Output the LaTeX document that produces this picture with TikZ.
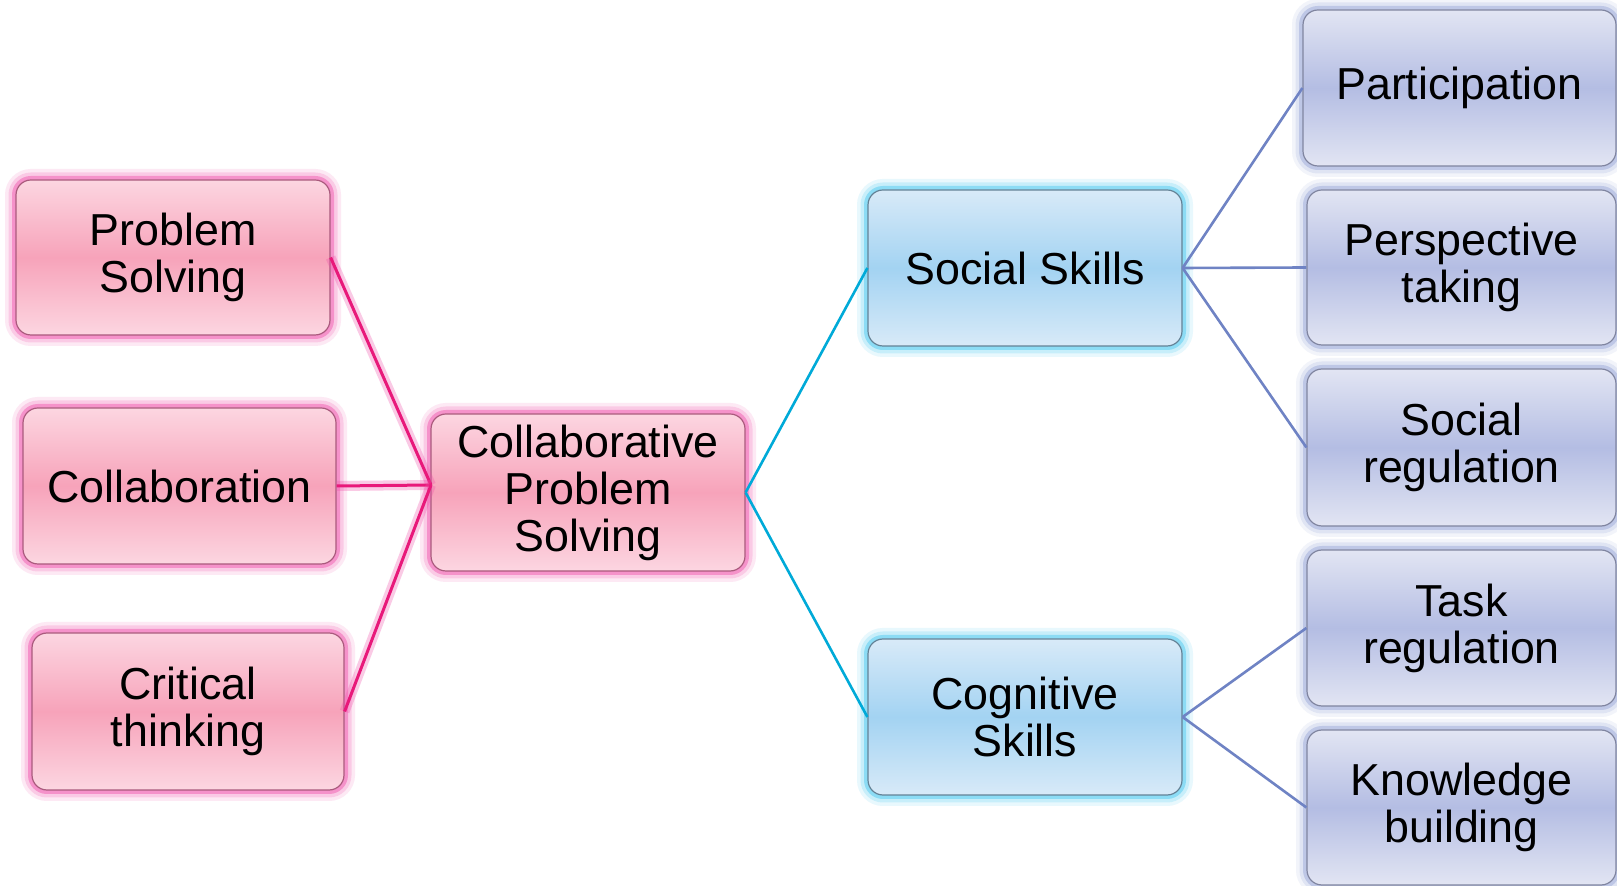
\documentclass[tikz,border=0pt]{standalone}
\usepackage{fontspec}
\setmainfont{Liberation Sans}
\begin{document}
\begin{tikzpicture}[x=0.5pt,y=-0.5pt,
  base/.style={rounded corners=7.5pt, inner sep=0pt, align=center,
    font=\fontsize{22.4}{23.5}\selectfont, line width=0.6pt},
  glow/.style={preaction={draw=#1, line width=11pt, opacity=0.12},
    preaction={draw=#1, line width=7.5pt, opacity=0.2},
    preaction={draw=#1, line width=4pt, opacity=0.45}},
  pinkbox/.style={base, draw=pinkedge, top color=pinktop, bottom color=pinktop, middle color=pinkmid, glow=pinkglow},
  bluebox/.style={base, draw=blueedge, top color=bluetop, bottom color=bluetop, middle color=bluemid, glow=blueglow},
  purplebox/.style={base, draw=purpleedge, top color=purpletop, bottom color=purpletop, middle color=purplemid, glow=purpleglow},
  pinkline/.style={draw=pinkline, line width=1.5pt,
    preaction={draw=pinkglow, line width=5pt, opacity=0.3}},
  blueline/.style={draw=blueline, line width=1.3pt},
  purpleline/.style={draw=purpleline, line width=1.3pt}]
\definecolor{pinktop}{RGB}{252,214,225}
\definecolor{pinkmid}{RGB}{247,163,186}
\definecolor{pinkedge}{RGB}{170,90,125}
\definecolor{pinkglow}{RGB}{240,80,170}
\definecolor{pinkline}{RGB}{232,25,122}
\definecolor{bluetop}{RGB}{216,234,248}
\definecolor{bluemid}{RGB}{163,211,242}
\definecolor{blueedge}{RGB}{100,130,150}
\definecolor{blueglow}{RGB}{70,200,240}
\definecolor{blueline}{RGB}{0,170,216}
\definecolor{purpletop}{RGB}{226,229,243}
\definecolor{purplemid}{RGB}{180,189,227}
\definecolor{purpleedge}{RGB}{128,133,160}
\definecolor{purpleglow}{RGB}{150,165,215}
\definecolor{purpleline}{RGB}{111,131,196}
\useasboundingbox[fill=white] (0,0) rectangle (1617,886);

\node[pinkbox, minimum width=157pt, minimum height=77.5pt] (ps) at (173,257.5) {Problem\\Solving};
\node[pinkbox, minimum width=156.5pt, minimum height=78pt] (col) at (179.5,486) {Collaboration};
\node[pinkbox, minimum width=156pt, minimum height=78.5pt] (ct) at (188,711.5) {Critical\\thinking};
\node[pinkbox, minimum width=157pt, minimum height=78.5pt] (cps) at (588,492.5) {Collaborative\\Problem\\Solving};

\node[bluebox, minimum width=157pt, minimum height=78pt] (ss) at (1025,268) {Social Skills};
\node[bluebox, minimum width=157pt, minimum height=78pt] (cog) at (1025,717) {Cognitive\\Skills};

\node[purplebox, minimum width=156.5pt, minimum height=78pt] (part) at (1459.5,88) {Participation};
\node[purplebox, minimum width=154.5pt, minimum height=77.5pt] (persp) at (1461.5,267.5) {Perspective\\taking};
\node[purplebox, minimum width=154.5pt, minimum height=78.5pt] (sreg) at (1461.5,447.5) {Social\\regulation};
\node[purplebox, minimum width=154.5pt, minimum height=78pt] (task) at (1461.5,628) {Task\\regulation};
\node[purplebox, minimum width=154.5pt, minimum height=77.5pt] (know) at (1461.5,807.5) {Knowledge\\building};

\coordinate (hub) at (431,485);
\path[pinkline] (ps.east) -- (hub);
\path[pinkline] (col.east) -- (hub);
\path[pinkline] (ct.east) -- (hub);

\path[blueline] (cps.east) -- (ss.west);
\path[blueline] (cps.east) -- (cog.west);

\path[purpleline] (ss.east) -- (part.west);
\path[purpleline] (ss.east) -- (persp.west);
\path[purpleline] (ss.east) -- (sreg.west);
\path[purpleline] (cog.east) -- (task.west);
\path[purpleline] (cog.east) -- (know.west);
\end{tikzpicture}
\end{document}
